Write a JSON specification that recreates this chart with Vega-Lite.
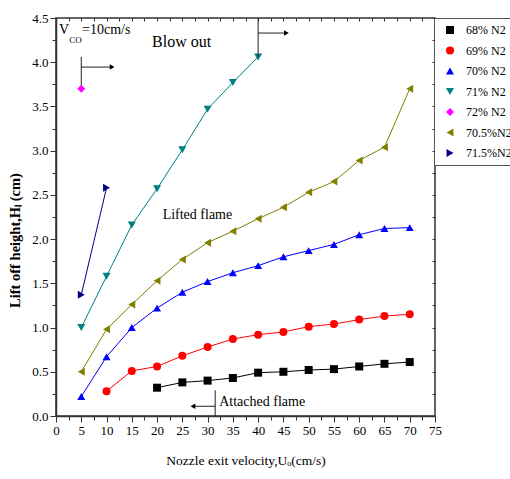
{
  "$schema": "https://vega.github.io/schema/vega-lite/v6.json",
  "width": 379,
  "height": 398,
  "autosize": {"type": "none"},
  "padding": {"left": 56, "top": 18, "right": 75, "bottom": 63},
  "config": {
    "font": "Liberation Serif",
    "view": {"stroke": "#333", "strokeWidth": 1.5},
    "axis": {"grid": false, "domainColor": "#333", "domainWidth": 1.5, "tickColor": "#333", "labelFont": "Liberation Serif", "labelColor": "#000", "labelFontSize": 13, "titleFont": "Liberation Serif", "titleColor": "#000"},
    "legend": {"orient": "none", "legendX": 378, "legendY": 0, "title": null, "strokeColor": "#555", "fillColor": "white", "padding": 6, "symbolSize": 64, "symbolOffset": 4, "labelOffset": 10, "labelFontSize": 12, "labelFont": "Liberation Serif", "labelColor": "#000", "rowPadding": 8.5, "symbolStrokeWidth": 0, "labelLimit": 200}
  },
  "datasets": {
    "series": [
      {"s": "68% N2", "v": 20, "h": 0.32}, {"s": "68% N2", "v": 25, "h": 0.38}, {"s": "68% N2", "v": 30, "h": 0.40}, {"s": "68% N2", "v": 35, "h": 0.43}, {"s": "68% N2", "v": 40, "h": 0.49}, {"s": "68% N2", "v": 45, "h": 0.50}, {"s": "68% N2", "v": 50, "h": 0.52}, {"s": "68% N2", "v": 55, "h": 0.53}, {"s": "68% N2", "v": 60, "h": 0.56}, {"s": "68% N2", "v": 65, "h": 0.59}, {"s": "68% N2", "v": 70, "h": 0.61},
      {"s": "69% N2", "v": 10, "h": 0.28}, {"s": "69% N2", "v": 15, "h": 0.51}, {"s": "69% N2", "v": 20, "h": 0.56}, {"s": "69% N2", "v": 25, "h": 0.68}, {"s": "69% N2", "v": 30, "h": 0.78}, {"s": "69% N2", "v": 35, "h": 0.87}, {"s": "69% N2", "v": 40, "h": 0.92}, {"s": "69% N2", "v": 45, "h": 0.95}, {"s": "69% N2", "v": 50, "h": 1.01}, {"s": "69% N2", "v": 55, "h": 1.04}, {"s": "69% N2", "v": 60, "h": 1.09}, {"s": "69% N2", "v": 65, "h": 1.13}, {"s": "69% N2", "v": 70, "h": 1.15},
      {"s": "70% N2", "v": 5, "h": 0.22}, {"s": "70% N2", "v": 10, "h": 0.67}, {"s": "70% N2", "v": 15, "h": 1.0}, {"s": "70% N2", "v": 20, "h": 1.22}, {"s": "70% N2", "v": 25, "h": 1.40}, {"s": "70% N2", "v": 30, "h": 1.52}, {"s": "70% N2", "v": 35, "h": 1.62}, {"s": "70% N2", "v": 40, "h": 1.70}, {"s": "70% N2", "v": 45, "h": 1.80}, {"s": "70% N2", "v": 50, "h": 1.87}, {"s": "70% N2", "v": 55, "h": 1.94}, {"s": "70% N2", "v": 60, "h": 2.05}, {"s": "70% N2", "v": 65, "h": 2.12}, {"s": "70% N2", "v": 70, "h": 2.13},
      {"s": "71% N2", "v": 5, "h": 1.0}, {"s": "71% N2", "v": 10, "h": 1.58}, {"s": "71% N2", "v": 15, "h": 2.16}, {"s": "71% N2", "v": 20, "h": 2.57}, {"s": "71% N2", "v": 25, "h": 3.01}, {"s": "71% N2", "v": 30, "h": 3.47}, {"s": "71% N2", "v": 35, "h": 3.77}, {"s": "71% N2", "v": 40, "h": 4.06},
      {"s": "72% N2", "v": 5, "h": 3.70},
      {"s": "70.5%N2", "v": 5, "h": 0.50}, {"s": "70.5%N2", "v": 10, "h": 0.98}, {"s": "70.5%N2", "v": 15, "h": 1.26}, {"s": "70.5%N2", "v": 20, "h": 1.53}, {"s": "70.5%N2", "v": 25, "h": 1.77}, {"s": "70.5%N2", "v": 30, "h": 1.96}, {"s": "70.5%N2", "v": 35, "h": 2.09}, {"s": "70.5%N2", "v": 40, "h": 2.23}, {"s": "70.5%N2", "v": 45, "h": 2.36}, {"s": "70.5%N2", "v": 50, "h": 2.53}, {"s": "70.5%N2", "v": 55, "h": 2.65}, {"s": "70.5%N2", "v": 60, "h": 2.89}, {"s": "70.5%N2", "v": 65, "h": 3.04}, {"s": "70.5%N2", "v": 70, "h": 3.70},
      {"s": "71.5%N2", "v": 5, "h": 1.37}, {"s": "71.5%N2", "v": 10, "h": 2.58}
    ],
    "arrows": [
      {"x": 5, "y": 3.74, "x2": 5, "y2": 4.06},
      {"x": 5, "y": 3.945, "x2": 11, "y2": 3.945},
      {"x": 40, "y": 4.06, "x2": 40, "y2": 4.5},
      {"x": 40, "y": 4.33, "x2": 45.5, "y2": 4.33},
      {"x": 31.5, "y": 0, "x2": 31.5, "y2": 0.29},
      {"x": 31.5, "y": 0.11, "x2": 27.2, "y2": 0.11}
    ]
  },
  "layer": [
    {
      "data": {"name": "series"},
      "mark": {"type": "line", "strokeWidth": 1},
      "encoding": {
        "x": {"field": "v", "type": "quantitative", "scale": {"domain": [0, 75], "nice": false, "zero": false},
          "axis": {"orient": "bottom", "title": "Nozzle exit velocity,Uₒ(cm/s)", "titleFontSize": 13.5, "titleFontWeight": "normal", "titlePadding": 16,
            "values": [0, 2.5, 5, 7.5, 10, 12.5, 15, 17.5, 20, 22.5, 25, 27.5, 30, 32.5, 35, 37.5, 40, 42.5, 45, 47.5, 50, 52.5, 55, 57.5, 60, 62.5, 65, 67.5, 70, 72.5, 75],
            "labelExpr": "datum.value % 5 == 0 ? datum.label : ''",
            "tickSize": {"condition": {"test": "datum.value % 5 == 0", "value": 6}, "value": 4},
            "labelPadding": 2, "labelFlush": false, "labelOverlap": false}},
        "y": {"field": "h", "type": "quantitative", "scale": {"domain": [0, 4.5], "nice": false, "zero": false},
          "axis": {"orient": "left", "title": "Lift off height,Hₗ (cm)", "titleFontSize": 14.5, "titleFontWeight": "bold", "titlePadding": 9, "titleY": 222,
            "values": [0, 0.25, 0.5, 0.75, 1, 1.25, 1.5, 1.75, 2, 2.25, 2.5, 2.75, 3, 3.25, 3.5, 3.75, 4, 4.25, 4.5],
            "labelExpr": "datum.value % 0.5 == 0 ? format(datum.value, '.1f') : ''",
            "tickSize": {"condition": {"test": "datum.value % 0.5 == 0", "value": 6}, "value": 4},
            "labelPadding": 2, "labelFlush": false, "labelOverlap": false}},
        "color": {"field": "s", "type": "nominal",
          "scale": {"domain": ["68% N2", "69% N2", "70% N2", "71% N2", "72% N2", "70.5%N2", "71.5%N2"], "range": ["#000000", "#ff0000", "#0000ff", "#008080", "#ff00ff", "#808000", "#000080"]}},
        "detail": {"field": "s"},
        "order": {"field": "v", "type": "quantitative"}
      }
    },
    {
      "data": {"name": "series"},
      "mark": {"type": "point", "filled": true, "size": 64, "opacity": 1},
      "encoding": {
        "x": {"field": "v", "type": "quantitative", "axis": null},
        "y": {"field": "h", "type": "quantitative", "axis": null},
        "color": {"field": "s", "type": "nominal"},
        "shape": {"field": "s", "type": "nominal",
          "scale": {"domain": ["68% N2", "69% N2", "70% N2", "71% N2", "72% N2", "70.5%N2", "71.5%N2"], "range": ["square", "circle", "triangle-up", "triangle-down", "diamond", "triangle-left", "triangle-right"]}}
      }
    },
    {
      "data": {"name": "series"},
      "mark": {"type": "point", "opacity": 0},
      "encoding": {
        "x": {"field": "v", "type": "quantitative",
          "axis": {"orient": "top", "title": null, "labels": false, "tickSize": -3, "domain": false,
            "values": [0, 2.5, 5, 7.5, 10, 12.5, 15, 17.5, 20, 22.5, 25, 27.5, 30, 32.5, 35, 37.5, 40, 42.5, 45, 47.5, 50, 52.5, 55, 57.5, 60, 62.5, 65, 67.5, 70, 72.5, 75]}},
        "y": {"field": "h", "type": "quantitative",
          "axis": {"orient": "right", "title": null, "labels": false, "tickSize": -3, "domain": false,
            "values": [0, 0.25, 0.5, 0.75, 1, 1.25, 1.5, 1.75, 2, 2.25, 2.5, 2.75, 3, 3.25, 3.5, 3.75, 4, 4.25, 4.5]}}
      }
    },
    {
      "data": {"name": "arrows"},
      "mark": {"type": "rule", "color": "#222", "strokeWidth": 1},
      "encoding": {
        "x": {"field": "x", "type": "quantitative", "axis": null},
        "y": {"field": "y", "type": "quantitative", "axis": null},
        "x2": {"field": "x2"},
        "y2": {"field": "y2"}
      }
    },
    {
      "data": {"values": [{"x": 11.1, "y": 3.945}, {"x": 45.6, "y": 4.33}]},
      "mark": {"type": "point", "shape": "triangle-right", "filled": true, "size": 30, "color": "#000", "opacity": 1},
      "encoding": {
        "x": {"field": "x", "type": "quantitative", "axis": null},
        "y": {"field": "y", "type": "quantitative", "axis": null}
      }
    },
    {
      "data": {"values": [{"x": 27.1, "y": 0.11}]},
      "mark": {"type": "point", "shape": "triangle-left", "filled": true, "size": 30, "color": "#000", "opacity": 1},
      "encoding": {
        "x": {"field": "x", "type": "quantitative", "axis": null},
        "y": {"field": "y", "type": "quantitative", "axis": null}
      }
    },
    {
      "data": {"values": [{"x": 19, "y": 4.227, "t": "Blow out"}]},
      "mark": {"type": "text", "align": "left", "baseline": "middle", "fontSize": 16, "font": "Liberation Serif", "color": "#000"},
      "encoding": {
        "x": {"field": "x", "type": "quantitative", "axis": null},
        "y": {"field": "y", "type": "quantitative", "axis": null},
        "text": {"field": "t"}
      }
    },
    {
      "data": {"values": [{"x": 21.1, "y": 2.27, "t": "Lifted flame"}, {"x": 32.3, "y": 0.155, "t": "Attached flame"}, {"x": 5.15, "y": 4.36, "t": "=10cm/s"}]},
      "mark": {"type": "text", "align": "left", "baseline": "middle", "fontSize": 14, "font": "Liberation Serif", "color": "#000"},
      "encoding": {
        "x": {"field": "x", "type": "quantitative", "axis": null},
        "y": {"field": "y", "type": "quantitative", "axis": null},
        "text": {"field": "t"}
      }
    },
    {
      "data": {"values": [{"x": 0.6, "y": 4.36, "t": "V"}]},
      "mark": {"type": "text", "align": "left", "baseline": "middle", "fontSize": 14, "font": "Liberation Serif", "color": "#000"},
      "encoding": {
        "x": {"field": "x", "type": "quantitative", "axis": null},
        "y": {"field": "y", "type": "quantitative", "axis": null},
        "text": {"field": "t"}
      }
    },
    {
      "data": {"values": [{"x": 2.6, "y": 4.25, "t": "CO"}]},
      "mark": {"type": "text", "align": "left", "baseline": "middle", "fontSize": 9, "font": "Liberation Serif", "color": "#000"},
      "encoding": {
        "x": {"field": "x", "type": "quantitative", "axis": null},
        "y": {"field": "y", "type": "quantitative", "axis": null},
        "text": {"field": "t"}
      }
    }
  ],
  "resolve": {"axis": {"x": "independent", "y": "independent"}}
}
